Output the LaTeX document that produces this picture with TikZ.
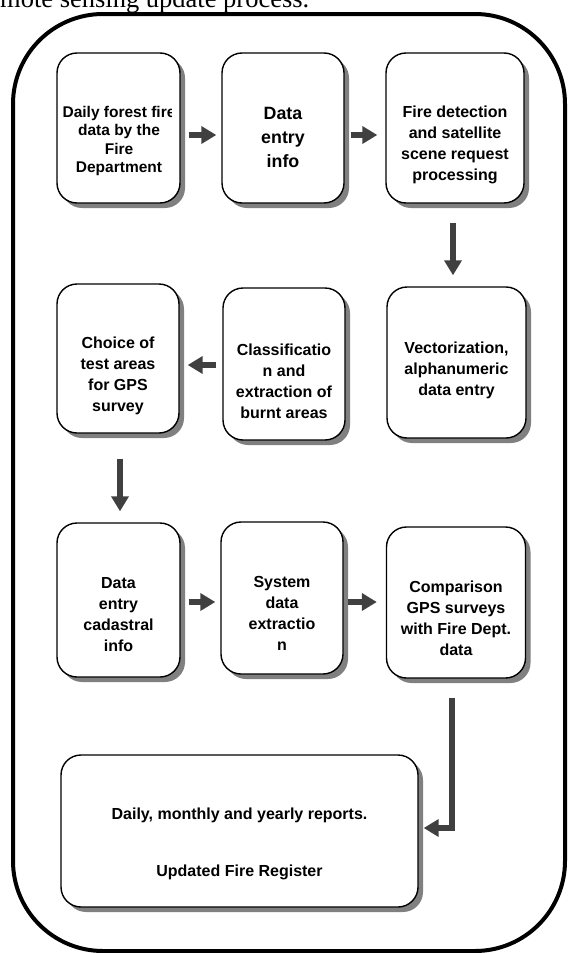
\documentclass[tikz,border=0pt]{standalone}
\usepackage{fontspec}
\setmainfont{Liberation Serif}
\newfontfamily\arialfont{Liberation Sans}
\usetikzlibrary{shadows,arrows.meta,calc}
\definecolor{arrowgray}{HTML}{404040}
\definecolor{shadowgray}{HTML}{808080}
\begin{document}
\begin{tikzpicture}[x=1pt,y=-1pt,
  box/.style={draw=black, line width=1.4pt, fill=white, rounded corners=20pt, inner sep=0pt,
    drop shadow={shadow xshift=5pt, shadow yshift=-5pt, fill=shadowgray, opacity=1}},
  lbl/.style={anchor=north, align=center, inner sep=0pt, font=\arialfont\bfseries\fontsize{16}{21}\selectfont},
  arr/.style={draw=arrowgray, line width=5.5pt, -{Triangle[length=15pt,width=17pt]}},
  frame/.style={draw=black, line width=4pt, rounded corners=90pt, inner sep=0pt}]
\useasboundingbox (0,0) rectangle (568,953);

\node[anchor=base west, inner sep=0pt, font=\fontsize{26.5}{30}\selectfont] (hdr) at (0,7) {mote sensing update process.};

\node[frame, minimum width=552pt, minimum height=937pt] (outer) at (289,482.5) {};

\node[box, minimum width=123pt, minimum height=150pt] (b1) at (118.5,128) {};
\node[box, minimum width=122pt, minimum height=150pt] (b2) at (283,128) {};
\node[box, minimum width=138pt, minimum height=150pt] (b3) at (455,128) {};
\node[box, minimum width=122pt, minimum height=149pt] (b4) at (118,358.5) {};
\node[box, minimum width=122pt, minimum height=152pt] (b5) at (284,364) {};
\node[box, minimum width=139pt, minimum height=151pt] (b6) at (456.5,362.5) {};
\node[box, minimum width=123pt, minimum height=154pt] (b7) at (118.5,600) {};
\node[box, minimum width=122pt, minimum height=152pt] (b8) at (282,598) {};
\node[box, minimum width=139pt, minimum height=151pt] (b9) at (456,602.5) {};
\node[box, minimum width=357pt, minimum height=152pt] (b10) at (239.5,831) {};

\begin{scope}
\clip (57,53) rectangle (171,203);
\node[lbl, font=\arialfont\bfseries\fontsize{15.5}{18.3}\selectfont] (t1) at (119,106) {Daily forest fire\\data by the\\Fire\\Department};
\end{scope}
\node[lbl, font=\arialfont\bfseries\fontsize{17.8}{24}\selectfont] (t2) at (283,107.5) {Data\\entry\\info};
\node[lbl] (t3) at (455,106) {Fire detection\\and satellite\\scene request\\processing};
\node[lbl] (t4) at (118,337) {Choice of\\test areas\\for GPS\\survey};
\node[lbl] (t5) at (284,344) {Classificatio\\n and\\extraction of\\burnt areas};
\node[lbl] (t6) at (456.5,342) {Vectorization,\\alphanumeric\\data entry};
\node[lbl] (t7) at (118.5,577) {Data\\entry\\cadastral\\info};
\node[lbl] (t8) at (282,576) {System\\data\\extractio\\n};
\node[lbl] (t9) at (456,581) {Comparison\\GPS surveys\\with Fire Dept.\\data};
\node[lbl, font=\arialfont\bfseries\fontsize{16}{57}\selectfont] (t10) at (239.5,808) {Daily, monthly and yearly reports.\\Updated Fire Register};

\draw[arr] ($(b1.east)+(8,7)$) -- ($(b2.west)+(-5,7)$);
\draw[arr] ($(b2.east)+(6,7)$) -- ($(b3.west)+(-8,7)$);
\draw[arr] ($(b3.south)+(-2,19)$) -- ($(b6.north)+(-3.5,-11)$);
\draw[arr] ($(b5.west)+(-6,1)$) -- ($(b4.east)+(8,6.5)$);
\draw[arr] ($(b4.south)+(2,25)$) -- ($(b7.north)+(1.5,-11)$);
\draw[arr] ($(b7.east)+(8,2)$) -- ($(b8.west)+(-5,4)$);
\draw[arr] ($(b8.east)+(4,4)$) -- ($(b9.west)+(-9,-0.5)$);
\draw[arr] ($(b9.south)+(-4,19)$) |- ($(b10.east)+(5,-3)$);
\end{tikzpicture}
\end{document}
